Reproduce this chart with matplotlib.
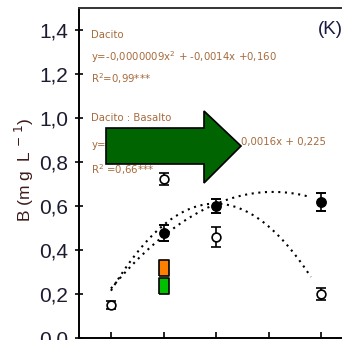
import matplotlib
matplotlib.use("Agg")
import matplotlib.pyplot as plt
import numpy as np
from matplotlib.patches import Polygon
from matplotlib.ticker import FuncFormatter

W, H = 342, 340

# dose levels (positions on x axis, ticks 0..4)
doses = [0, 1, 2, 3, 4]

# Dacito (open circles)
dac_x = [0, 1, 2, 4]
dac_y = [0.15, 0.723, 0.46, 0.20]
dac_err = [0.02, 0.027, 0.045, 0.027]

# Dacito : Basalto (filled circles)
db_x = [1, 2, 4]
db_y = [0.477, 0.60, 0.618]
db_err = [0.035, 0.03, 0.04]

# single treatments at dose 1
orange_y = [0.318]
green_y = [0.236]
single_x = [1]

# fitted quadratics (c, b, a) in axis units
fit_dac = [0.215, 0.3995, -0.1008]
fit_db = [0.225, 0.285, -0.04625]
fit_range = (0.0, 3.8)

yticks = [0.0, 0.2, 0.4, 0.6, 0.8, 1.0, 1.2, 1.4]

TXT = "#a66a3c"


def px(x, y):
    return x / W, 1 - y / H


fig = plt.figure(figsize=(W / 100, H / 100), dpi=100)
ax = fig.add_axes([79 / W, 2 / H, 266 / W, 330 / H])
ax.set_xlim(-0.608, 4.449)
ax.set_ylim(0, 1.5)

t = np.linspace(*fit_range, 200)
for c, b, a in (fit_dac, fit_db):
    ax.plot(t, c + b * t + a * t ** 2, color="black", lw=1.5, ls=(0, (1, 2.2)), zorder=2)

ax.errorbar(dac_x, dac_y, yerr=dac_err, fmt="o", ms=6.3, mfc="white", mec="black", mew=1.2,
            ecolor="black", elinewidth=1.2, capsize=3.5, capthick=1.4, zorder=4)
ax.errorbar(db_x, db_y, yerr=db_err, fmt="o", ms=6.8, mfc="black", mec="black",
            ecolor="black", elinewidth=1.2, capsize=3.5, capthick=1.4, zorder=4)

rect = [(-1, -1.6), (1, -1.6), (1, 1.6), (-1, 1.6), (-1, -1.6)]
ax.plot(single_x, orange_y, ls="none", marker=rect, ms=11.5, mfc="#ff8000", mec="black", mew=1.2, zorder=5)
ax.plot(single_x, green_y, ls="none", marker=rect, ms=11.5, mfc="#00c000", mec="black", mew=1.2, zorder=5)

ax.spines["right"].set_visible(False)
for s in ("left", "top", "bottom"):
    ax.spines[s].set_linewidth(1.4)
ax.spines["top"].set_color("#333333")

ax.set_xticks(doses)
ax.set_xticklabels([])
ax.tick_params(axis="x", direction="in", length=4, width=1.2)
ax.set_yticks(yticks)
ax.yaxis.set_major_formatter(FuncFormatter(lambda v, p: f"{v:.1f}".replace(".", ",")))
ax.tick_params(axis="y", direction="inout", length=6, width=1.2, pad=5,
               labelsize=15, labelcolor="#1c1c30")
for lab in ax.get_yticklabels():
    lab.set_fontfamily("Liberation Sans")

fig.text(*px(24, 170), r"B (m g  L $^{-\ 1}$)", rotation=90, ha="center", va="center",
         fontsize=12.5, color="#3d1a1a", family="Liberation Sans")

kw = dict(fontsize=7.3, color=TXT, family="DejaVu Sans", va="center", ha="left", zorder=3)
fig.text(*px(91, 35), "Dacito", **kw)
fig.text(*px(91, 57), r"y=-0,0000009x$^2$ + -0,0014x +0,160", **kw)
fig.text(*px(91, 79), r"R$^2$=0,99***", **kw)
fig.text(*px(91, 118), "Dacito : Basalto", **kw)
fig.text(*px(91, 145), r"y= -0,0000072x$^2$ +", **kw)
fig.text(*px(241, 142), "0,0016x + 0,225", **kw)
fig.text(*px(91, 170), r"R$^2$ =0,66***", **kw)
fig.text(*px(318, 29), "(K)", fontsize=13.5, color="#1a1a40", family="Liberation Sans",
         va="center", ha="left")

arrow_px = [(106, 128), (204, 128), (204, 111), (241, 146), (204, 183), (204, 164), (106, 164)]
arrow = Polygon([px(x, y) for x, y in arrow_px], closed=True, facecolor="#006400",
                edgecolor="black", lw=1.2, transform=fig.transFigure, zorder=10)
fig.add_artist(arrow)

fig.savefig("out.png", dpi=100)
